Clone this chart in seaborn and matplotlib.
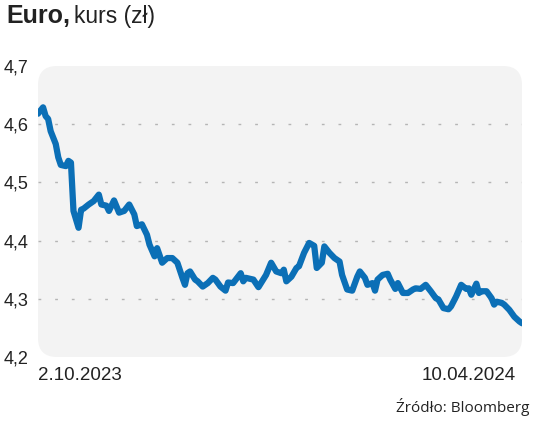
import pandas as pd
import seaborn as sns
import matplotlib.pyplot as plt
from matplotlib.patches import FancyBboxPatch
from matplotlib.ticker import FuncFormatter
from matplotlib.transforms import ScaledTranslation

# dni od 2.10.2023 i kurs EUR/PLN
dni = [0, 2, 3, 4, 5, 7, 8, 9, 11, 12, 13, 14, 16, 17, 18, 20, 22, 24, 25, 27,
       28, 30, 32, 34, 36, 38, 39, 41, 43, 44, 46, 47, 49, 51, 53, 55, 57, 58, 59, 60,
       62, 63, 65, 67, 69, 70, 72, 74, 75, 77, 80, 81, 82, 85, 87, 90, 92, 94, 96, 97,
       98, 100, 102, 103, 105, 107, 109, 110, 112, 113, 115, 117, 119, 120, 122, 124, 126, 127, 129, 130,
       132, 133, 134, 136, 138, 139, 141, 142, 144, 146, 148, 149, 151, 153, 155, 157, 158, 160, 162, 163,
       165, 167, 169, 170, 171, 173, 174, 175, 177, 179, 180, 181, 183, 184, 186, 188, 190, 191]
kurs = [4.618, 4.629, 4.614, 4.609, 4.588, 4.566, 4.543, 4.530, 4.528, 4.537, 4.534, 4.451, 4.422, 4.453, 4.455, 4.462, 4.468, 4.479, 4.462, 4.460,
        4.451, 4.469, 4.448, 4.451, 4.462, 4.445, 4.425, 4.428, 4.410, 4.393, 4.373, 4.387, 4.362, 4.370, 4.370, 4.362, 4.336, 4.324, 4.344, 4.347,
        4.333, 4.330, 4.321, 4.327, 4.336, 4.333, 4.321, 4.314, 4.328, 4.327, 4.344, 4.330, 4.336, 4.333, 4.320, 4.341, 4.362, 4.347, 4.344, 4.350,
        4.330, 4.338, 4.353, 4.356, 4.379, 4.396, 4.391, 4.353, 4.362, 4.390, 4.379, 4.370, 4.364, 4.341, 4.316, 4.314, 4.338, 4.347, 4.336, 4.324,
        4.327, 4.314, 4.333, 4.341, 4.343, 4.333, 4.317, 4.327, 4.310, 4.310, 4.316, 4.318, 4.317, 4.324, 4.313, 4.301, 4.299, 4.284, 4.282, 4.287,
        4.304, 4.324, 4.317, 4.318, 4.307, 4.326, 4.310, 4.313, 4.313, 4.301, 4.290, 4.295, 4.293, 4.290, 4.281, 4.269, 4.261, 4.258]
y_ticks = [4.2, 4.3, 4.4, 4.5, 4.6, 4.7]
x_etykiety = ["2.10.2023", "10.04.2024"]

df = pd.DataFrame({"data": pd.Timestamp("2023-10-02") + pd.to_timedelta(dni, unit="D"),
                   "kurs": kurs})

sns.set_style("white")
plt.rcParams['font.family'] = ['Liberation Sans', 'DejaVu Sans']

fig = plt.figure(figsize=(5.36, 4.28), dpi=100)
ax = fig.add_axes([38 / 536, 1 - 357 / 428, 484 / 536, 291 / 428])
ax.patch.set_visible(False)

# szare tlo z zaokraglonymi rogami
tlo = FancyBboxPatch((0.38, 0.71), 4.84, 2.91, boxstyle="round,pad=0,rounding_size=0.19",
                     transform=fig.dpi_scale_trans, facecolor="#f3f3f3", edgecolor="none", zorder=-1)
fig.patches.append(tlo)

for y in y_ticks[1:-1]:
    ax.axhline(y, color="#b5b5b5", lw=1, ls=(0, (2, 10)), zorder=1)

sns.lineplot(data=df, x="data", y="kurs", ax=ax, color="#0b6fb6", lw=4.5,
             solid_joinstyle="round", solid_capstyle="round", zorder=3)

ax.set_xlim(df["data"].iloc[0], df["data"].iloc[-1])
ax.set_ylim(4.2, 4.7)
ax.set_yticks(y_ticks)
ax.yaxis.set_major_formatter(FuncFormatter(lambda v, p: f"{v:.1f}".replace(".", ",")))
ax.set_xticks([df["data"].iloc[0], df["data"].iloc[-1]])
ax.set_xticklabels(x_etykiety)
ax.tick_params(axis="y", length=0, pad=7, labelsize=13, labelcolor="#222222")
ax.tick_params(axis="x", length=0, pad=7, labelsize=13.5, labelcolor="#222222")
lab0, lab1 = ax.get_xticklabels()
lab0.set_ha("left")
lab1.set_ha("right")
lab1.set_transform(lab1.get_transform() + ScaledTranslation(-6 / 100, 0, fig.dpi_scale_trans))
ax.set_xlabel("")
ax.set_ylabel("")
sns.despine(ax=ax, left=True, bottom=True)

t1 = fig.text(6 / 536, 1 - 23 / 428, "Euro,", fontsize=18, fontweight="bold", color="#222222")
fig.canvas.draw()
bb = t1.get_window_extent()
fig.text((bb.x1 + 4) / 536, 1 - 23 / 428, "kurs (zł)", fontsize=16.5, color="#222222")

fig.text(530 / 536, 1 - 412 / 428, "Źródło: Bloomberg", fontsize=11, color="#222222",
         ha="right", family=["Open Sans", "DejaVu Sans"])

fig.savefig("out.png", dpi=100)
